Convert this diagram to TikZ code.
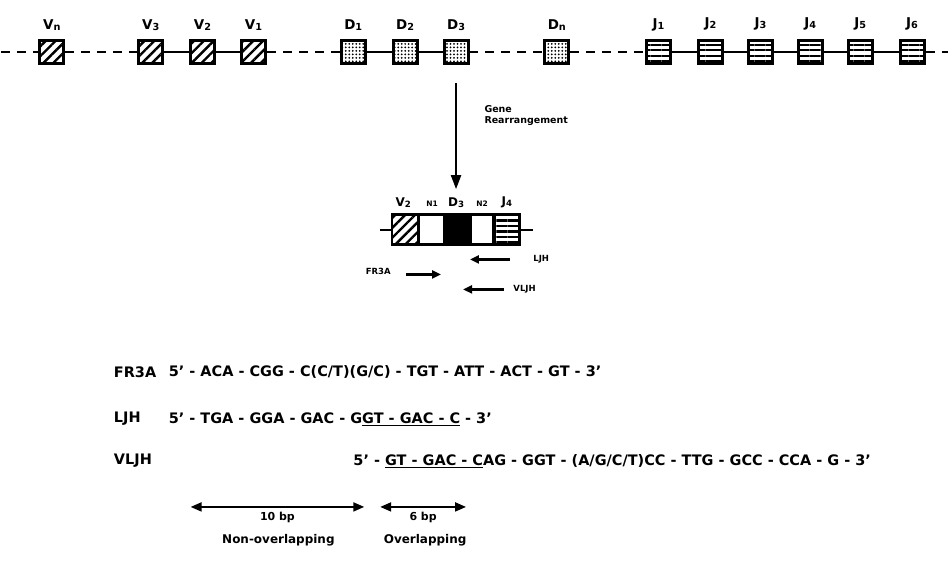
\documentclass[tikz,border=0pt]{standalone}
\usepackage{fontspec}
\setmainfont{DejaVu Sans}
\usetikzlibrary{arrows.meta, patterns.meta, positioning}
\newcommand{\idx}[1]{\raisebox{-1pt}{\fontsize{0.72em}{1em}\selectfont #1}}
\newcommand{\fsz}[1]{\fontsize{#1}{1.2\dimexpr#1pt\relax}\selectfont}

\begin{document}
\begin{tikzpicture}[x=1pt, y=-1pt, every node/.style={font=\bfseries},
    seg/.style={draw, line width=3pt, minimum width=24pt, minimum height=23pt, inner sep=0pt},
    vseg/.style={seg, pattern={Lines[angle=45, distance=7pt, line width=2.4pt]}},
    dseg/.style={seg, pattern={Dots[distance=3.5pt, radius=1pt]}},
    jseg/.style={seg, pattern={Lines[angle=0, distance=5.5pt, line width=2.2pt]}},
    rseg/.style={line width=2.6pt, minimum width=26pt, minimum height=30pt},
    toplbl/.style={font=\bfseries\fsz{13.5}, label distance=5pt},
    link/.style={line width=2pt},
    gap/.style={link, dash pattern=on 9pt off 7pt},
    bigarrow/.style={line width=2.2pt, -{Triangle[length=14pt, width=10pt]}},
    primer/.style={line width=2.4pt, -{Triangle[length=9pt, width=8pt]}},
    span/.style={line width=2pt, {Triangle[length=11pt, width=9pt]}-{Triangle[length=11pt, width=9pt]}},
    seq/.style={anchor=west, inner sep=0pt, font=\bfseries\fsz{14.5}}]

  \fill[white] (0,0) rectangle (949,562);

  % germline locus
  \node[vseg, label={[toplbl]above:V\idx{n}}] (Vn) at (51,52) {};
  \node[vseg, label={[toplbl]above:V\idx{3}}] (V3) at (150,52) {};
  \node[vseg, label={[toplbl]above:V\idx{2}}] (V2) at (202,52) {};
  \node[vseg, label={[toplbl]above:V\idx{1}}] (V1) at (253,52) {};
  \node[dseg, label={[toplbl]above:D\idx{1}}] (D1) at (353,52) {};
  \node[dseg, label={[toplbl]above:D\idx{2}}] (D2) at (405,52) {};
  \node[dseg, label={[toplbl]above:D\idx{3}}] (D3) at (456,52) {};
  \node[dseg, label={[toplbl]above:D\idx{n}}] (Dn) at (557,52) {};
  \node[jseg, label={[toplbl]above:J\idx{1}}] (J1) at (659,52) {};
  \node[jseg, label={[toplbl]above:J\idx{2}}] (J2) at (711,52) {};
  \node[jseg, label={[toplbl]above:J\idx{3}}] (J3) at (761,52) {};
  \node[jseg, label={[toplbl]above:J\idx{4}}] (J4) at (811,52) {};
  \node[jseg, label={[toplbl]above:J\idx{5}}] (J5) at (861,52) {};
  \node[jseg, label={[toplbl]above:J\idx{6}}] (J6) at (913,52) {};
  \coordinate (lend) at (0,52);
  \coordinate (rend) at (949,52);

  \draw[gap]  (lend) -- (Vn);
  \draw[gap]  (Vn) -- (V3);
  \draw[link] (V3) -- (V2);
  \draw[link] (V2) -- (V1);
  \draw[gap]  (V1) -- (D1);
  \draw[link] (D1) -- (D2);
  \draw[link] (D2) -- (D3);
  \draw[gap]  (D3) -- (Dn);
  \draw[gap]  (Dn) -- (J1);
  \draw[link] (J1) -- (J2);
  \draw[link] (J2) -- (J3);
  \draw[link] (J3) -- (J4);
  \draw[link] (J4) -- (J5);
  \draw[link] (J5) -- (J6);
  \draw[gap]  (J6) -- (rend);

  % rearranged gene
  \node[vseg, rseg] (rV2) at (405,230) {};
  \node[seg, rseg] (rN1) at (431.5,230) {};
  \node[seg, rseg, fill=black] (rD3) at (457.5,230) {};
  \node[seg, rseg] (rN2) at (481.5,230) {};
  \node[jseg, rseg] (rJ4) at (506.5,230) {};
  \coordinate (rl) at (380,230);
  \coordinate (rr) at (533,230);
  \draw[link] (rl) -- (rV2);
  \draw[link] (rJ4) -- (rr);

  \node[font=\bfseries\fsz{12}] (lV2) at (403,203) {V\idx{2}};
  \node[font=\bfseries\fsz{7.5}] (lN1) at (432,204) {N1};
  \node[font=\bfseries\fsz{12}] (lD3) at (456,203) {D\idx{3}};
  \node[font=\bfseries\fsz{7.5}] (lN2) at (482,204) {N2};
  \node[font=\bfseries\fsz{12}] (lJ4) at (507,203) {J\idx{4}};

  \draw[bigarrow] ([yshift=-18pt]D3.south) -- ([yshift=5pt]lD3.north);
  \node[anchor=west, align=left, font=\bfseries\fsz{9.5}] (gr) at (481,116) {Gene\\Rearrangement};

  % primers
  \node[anchor=west, font=\bfseries\fsz{8.5}] (ljh) at (530,260) {LJH};
  \node[anchor=east, font=\bfseries\fsz{8.5}] (fr3a) at (394,272) {FR3A};
  \node[anchor=west, font=\bfseries\fsz{8.5}] (vljh) at (510,290) {VLJH};
  \coordinate (ljhtip) at (470,260);
  \coordinate (fr3atip) at (441,275);
  \coordinate (vljhtip) at (463,290);
  \draw[primer] ([xshift=-20pt]ljh.west) -- (ljhtip);
  \draw[primer] ([xshift=12pt, yshift=-3pt]fr3a.east) -- (fr3atip);
  \draw[primer] ([xshift=-6pt]vljh.west) -- (vljhtip);

  % sequences
  \node[seq] (nFR) at (113,373) {FR3A};
  \node[seq] (sFR) at (168,373) {5' - ACA - CGG - C(C/T)(G/C) - TGT - ATT - ACT - GT - 3'};
  \node[seq] (nLJ) at (113,420) {LJH};
  \node[seq] (sLJ) at (168,420) {5' - TGA - GGA - GAC - G\underline{GT - GAC - C} - 3'};
  \node[seq] (nVL) at (113,462) {VLJH};
  \node[seq] (sVL) at (353,462) {5' - \underline{GT - GAC - C}AG - GGT - (A/G/C/T)CC - TTG - GCC - CCA - G - 3'};

  % overlap spans
  \coordinate (nl) at (190,508);
  \coordinate (nr) at (364,508);
  \coordinate (ol) at (380,508);
  \coordinate (or) at (466,508);
  \draw[span] (nl) -- (nr) node[midway, below=1pt, font=\bfseries\fsz{11}] (tenbp) {10 bp};
  \draw[span] (ol) -- (or) node[midway, below=1pt, font=\bfseries\fsz{11}] (sixbp) {6 bp};
  \node[font=\bfseries\fsz{12}] (nonov) at (278,541) {Non-overlapping};
  \node[font=\bfseries\fsz{12}] (ov) at (425,541) {Overlapping};
\end{tikzpicture}
\end{document}
